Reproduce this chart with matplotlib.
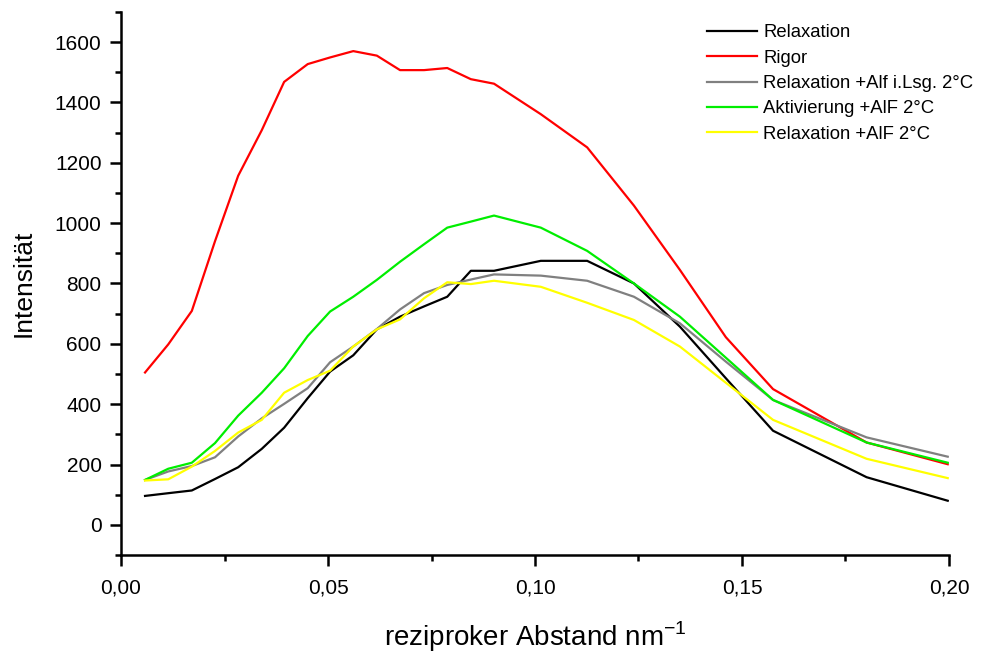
import matplotlib
matplotlib.use("Agg")
import matplotlib.pyplot as plt
from matplotlib.ticker import MultipleLocator, FuncFormatter

plt.rcParams['font.family'] = ['Liberation Sans', 'DejaVu Sans']
plt.rcParams['mathtext.fontset'] = 'custom'
plt.rcParams['mathtext.rm'] = 'Liberation Sans'

x = [0.0058, 0.0114, 0.0171, 0.0227, 0.0283, 0.0340, 0.0394, 0.0451,
     0.0505, 0.0561, 0.0618, 0.0674, 0.0732, 0.0788, 0.0845, 0.0901,
     0.1014, 0.1126, 0.1239, 0.1350, 0.1461, 0.1575, 0.1801, 0.1997]

relaxation = [96, 105, 114, 152, 191, 252, 322, 420, 508, 562, 648, 690,
              724, 756, 842, 842, 875, 875, 800, 657, 486, 312, 158, 80]
rigor = [505, 598, 709, 940, 1157, 1308, 1468, 1527, 1549, 1570, 1555, 1507,
         1507, 1514, 1477, 1462, 1361, 1251, 1058, 845, 622, 450, 273, 201]
relax_alf_lsg = [149, 177, 195, 224, 293, 353, 401, 453, 539, 591, 649, 714,
                 768, 795, 813, 830, 826, 809, 756, 668, 541, 414, 290, 226]
aktiv_alf = [149, 186, 206, 271, 362, 438, 519, 626, 707, 756, 812, 872,
             930, 985, 1005, 1025, 985, 908, 800, 690, 554, 414, 273, 206]
relax_alf = [147, 151, 193, 245, 306, 348, 438, 480, 511, 591, 648, 681,
             751, 804, 798, 809, 789, 736, 679, 591, 471, 348, 219, 155]

labels = ["Relaxation", "Rigor", "Relaxation +Alf i.Lsg. 2°C",
          "Aktivierung +AlF 2°C", "Relaxation +AlF 2°C"]
colors = ["#000000", "#ff0000", "#808080", "#00ee00", "#ffff00"]
series = [relaxation, rigor, relax_alf_lsg, aktiv_alf, relax_alf]

fig = plt.figure(figsize=(9.88, 6.6), dpi=100)
ax = fig.add_axes([0.1225, 0.159, 0.8380, 0.823])

for ys, c, lab in zip(series, colors, labels):
    ax.plot(x, ys, color=c, lw=1.6, label=lab)

ax.set_xlim(0, 0.20)
ax.set_ylim(-100, 1700)
ax.xaxis.set_major_locator(MultipleLocator(0.05))
ax.xaxis.set_minor_locator(MultipleLocator(0.025))
ax.yaxis.set_major_locator(MultipleLocator(200))
ax.yaxis.set_minor_locator(MultipleLocator(100))
ax.xaxis.set_major_formatter(FuncFormatter(lambda v, p: f"{v:.2f}".replace(".", ",")))
ax.yaxis.set_major_formatter(FuncFormatter(lambda v, p: f"{v:.0f}"))

for s in ["top", "right"]:
    ax.spines[s].set_visible(False)
for s in ["left", "bottom"]:
    ax.spines[s].set_linewidth(1.8)

ax.tick_params(which="major", direction="out", length=8, width=1.8, labelsize=15)
ax.tick_params(axis="x", which="major", pad=9)
ax.tick_params(axis="y", which="major", pad=6)
ax.tick_params(which="minor", direction="out", length=4.5, width=1.8)

ax.set_xlabel("reziproker Abstand nm$^{\\mathregular{-1}}$", fontsize=20, labelpad=16)
ax.set_ylabel("Intensität", fontsize=19, labelpad=14)

fig.legend(*ax.get_legend_handles_labels(), loc="upper left",
           bbox_to_anchor=(0.7156, 0.963), bbox_transform=fig.transFigure,
           frameon=False, fontsize=13.3, borderpad=0, borderaxespad=0,
           handlelength=2.7, handletextpad=0.35, labelspacing=0.45)

fig.savefig("out.png", dpi=100)
